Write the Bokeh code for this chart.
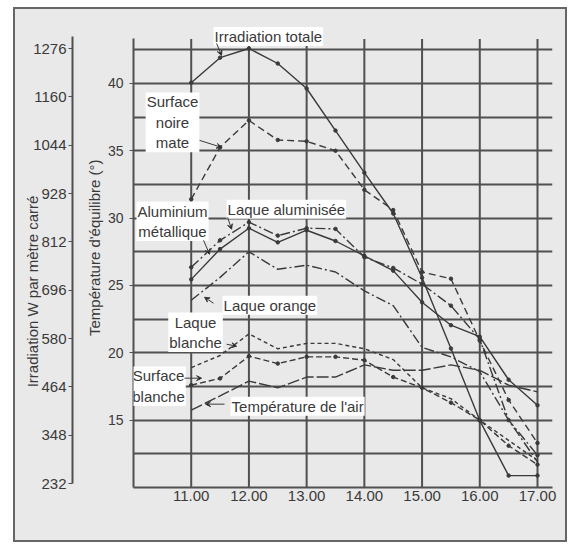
from bokeh.plotting import figure
from bokeh.models import (Range1d, LinearAxis, FixedTicker, Label, Arrow, VeeHead)
from bokeh.embed import file_html
from bokeh.resources import INLINE

# ---------------- data ----------------
hours = [11.0, 11.5, 12.0, 12.5, 13.0, 13.5, 14.0, 14.5, 15.0, 15.5, 16.0, 16.5, 17.0]

irradiation_totale = [1194, 1254, 1276, 1240, 1180, 1079, 978, 880, 726, 556, 383, 251, 251]

surface_noire_mate = [31.4, 35.25, 37.25, 35.8, 35.7, 35.0, 32.1, 30.6, 26.0, 25.5, 20.9, 16.5, 13.3]
laque_aluminisee = [26.35, 28.35, 29.7, 28.7, 29.25, 29.2, 27.1, 26.3, 25.1, 23.5, 21.0, 15.0, 12.4]
aluminium_metallique = [25.45, 27.7, 29.25, 28.2, 29.1, 28.3, 27.2, 26.1, 23.75, 22.05, 21.2, 18.0, 16.1]
laque_orange = [23.9, 25.6, 27.5, 26.2, 26.5, 26.0, 24.6, 23.5, 20.4, 19.7, 18.6, 15.0, 11.9]
laque_blanche = [18.9, 19.8, 21.4, 20.3, 20.7, 20.7, 20.3, 19.5, 17.4, 16.6, 15.0, 13.5, 12.0]
surface_blanche = [17.6, 18.1, 19.75, 19.2, 19.7, 19.7, 19.45, 18.2, 17.4, 16.3, 15.0, 13.1, 11.7]
temperature_air = [15.75, 16.8, 17.9, 17.4, 18.2, 18.2, 19.1, 18.7, 18.7, 19.1, 18.7, 17.6, 17.1]

hour_ticks = [11, 12, 13, 14, 15, 16, 17]
hour_labels = ["11.00", "12.00", "13.00", "14.00", "15.00", "16.00", "17.00"]
temp_ticks = [15, 20, 25, 30, 35, 40]
temp_grid = [12.5, 15, 17.5, 20, 22.5, 25, 27.5, 30, 32.5, 35, 37.5, 40, 42.5]
irr_ticks = [232, 348, 464, 580, 696, 812, 928, 1044, 1160, 1276]

# ---------------- styling ----------------
FONT = "Liberation Sans"
INK = "#3a3a3a"
GRID = "#505050"
BG = "#e9e9e9"
T_MIN, T_MAX, T_GRID_TOP = 10.0, 44.67, 43.3

p = figure(width=568, height=544, output_backend="svg", toolbar_location=None,
           x_range=Range1d(10.0, 17.26), y_range=Range1d(T_MIN, T_MAX),
           min_border_left=133, min_border_right=16, min_border_top=20,
           min_border_bottom=57)
p.background_fill_color = BG
p.border_fill_color = None
p.outline_line_color = None
line_css = "linear-gradient(#666666,#666666)"
fill_css = "linear-gradient(%s,%s)" % (BG, BG)
p.styles = {
    "background": ", ".join([
        line_css + " 13px 7px / 554px 2px no-repeat",
        line_css + " 13px 540px / 554px 2px no-repeat",
        line_css + " 13px 7px / 2px 535px no-repeat",
        line_css + " 565px 7px / 2px 535px no-repeat",
        fill_css + " 13px 7px / 554px 535px no-repeat",
        "#ffffff",
    ])
}

p.extra_y_ranges = {"irr": Range1d(222.4, 1343.2)}

# x axis
xa = p.xaxis[0]
xa.ticker = FixedTicker(ticks=hour_ticks)
xa.major_label_overrides = {h: l for h, l in zip(hour_ticks, hour_labels)}
xa.major_tick_out = 0
xa.major_tick_in = 0
xa.minor_tick_line_color = None
xa.axis_line_color = GRID
xa.axis_line_width = 2
xa.major_label_standoff = 3
xa.major_label_text_font = FONT
xa.major_label_text_font_size = "15px"
xa.major_label_text_color = INK

# temperature axis (inner left)
ya = p.yaxis[0]
ya.ticker = FixedTicker(ticks=temp_ticks)
ya.bounds = (T_MIN, T_GRID_TOP)
ya.major_tick_out = 4
ya.major_tick_in = 0
ya.major_tick_line_color = GRID
ya.minor_tick_line_color = None
ya.axis_line_color = GRID
ya.axis_line_width = 2
ya.major_label_standoff = 6
ya.major_label_text_font = FONT
ya.major_label_text_font_size = "14px"
ya.major_label_text_color = INK
ya.axis_label = "\u00a0\n" + "\u00a0" * 3 + "Température d'équilibre (°)"
ya.axis_label_text_font = FONT
ya.axis_label_text_font_size = "15px"
ya.axis_label_text_font_style = "normal"
ya.axis_label_text_color = INK
ya.axis_label_text_line_height = 0.6
ya.axis_label_standoff = 2

# irradiation axis (outer left)
ia = LinearAxis(y_range_name="irr", ticker=FixedTicker(ticks=irr_ticks))
ia.bounds = (232, 1306)
ia.major_tick_out = 4
ia.major_tick_in = 0
ia.major_tick_line_color = GRID
ia.minor_tick_line_color = None
ia.axis_line_color = GRID
ia.axis_line_width = 2
ia.major_label_standoff = 2
ia.major_label_text_font = FONT
ia.major_label_text_font_size = "15px"
ia.major_label_text_color = INK
ia.axis_label = "Irradiation W par mètre carré" + "\u00a0" * 18
ia.axis_label_text_font = FONT
ia.axis_label_text_font_size = "15px"
ia.axis_label_text_font_style = "normal"
ia.axis_label_text_color = INK
ia.axis_label_standoff = -11
p.add_layout(ia, "left")

# grid: horizontal lines from the library grid, vertical lines stop at the grid top
p.xgrid.visible = False
p.ygrid.ticker = FixedTicker(ticks=temp_grid)
p.ygrid.grid_line_color = GRID
p.ygrid.grid_line_width = 2
p.segment(x0=hour_ticks, y0=[T_MIN] * len(hour_ticks), x1=hour_ticks,
          y1=[T_GRID_TOP] * len(hour_ticks), line_color=GRID, line_width=2)

# ---------------- series ----------------
series = [
    (surface_noire_mate, "7 4", True),
    (laque_aluminisee, "10 3 2 3", True),
    (aluminium_metallique, "solid", True),
    (laque_orange, "10 3 2 3", False),
    (laque_blanche, "4 3", False),
    (surface_blanche, "6 3", True),
    (temperature_air, "12 3", False),
]
for vals, dash, dots in series:
    p.line(hours, vals, line_color=INK, line_width=1.4, line_dash=dash)
    if dots:
        p.scatter(hours, vals, size=3.5, color=INK)

p.line(hours, irradiation_totale, y_range_name="irr", line_color=INK, line_width=1.4)
p.scatter(hours, irradiation_totale, y_range_name="irr", size=3.5, color=INK)

# ---------------- annotations ----------------
def dx(px):
    return 10.0 + (px - 133) / 57.67

def dy(py):
    return 15.0 + (420 - py) / 13.48

labels = [
    ("Irradiation totale", 213, 36, "left"),
    ("Surface\nnoire\nmate", 172, 122, "center"),
    ("Aluminium\nmétallique", 172, 221, "center"),
    ("Laque aluminisée", 226, 209, "left"),
    ("Laque orange", 222, 305, "left"),
    ("Laque\nblanche", 195, 332, "center"),
    ("Surface\nblanche", 158, 386, "center"),
    ("Température de l'air", 230, 406, "left"),
]
for text, px, py, align in labels:
    p.add_layout(Label(x=dx(px), y=dy(py), text=text, text_align=align,
                       text_baseline="middle", text_font=FONT,
                       text_font_size="15px", text_color=INK,
                       text_line_height=1.2,
                       background_fill_color="white", padding=1))

arrows = [
    (216, 43, 221, 55),
    (199, 140, 221, 147),
    (203, 240, 209, 254),
    (227, 217, 231, 229),
    (213, 303, 204, 297),
    (226, 344, 236, 346),
    (184, 378, 201, 378),
    (224, 404, 205, 404),
]
for x0, y0, x1, y1 in arrows:
    p.add_layout(Arrow(x_start=dx(x0), y_start=dy(y0), x_end=dx(x1), y_end=dy(y1),
                       line_color=INK, line_width=1,
                       end=VeeHead(size=5, line_color=INK, line_width=1)))

open("out.html", "w").write(file_html(p, INLINE))
